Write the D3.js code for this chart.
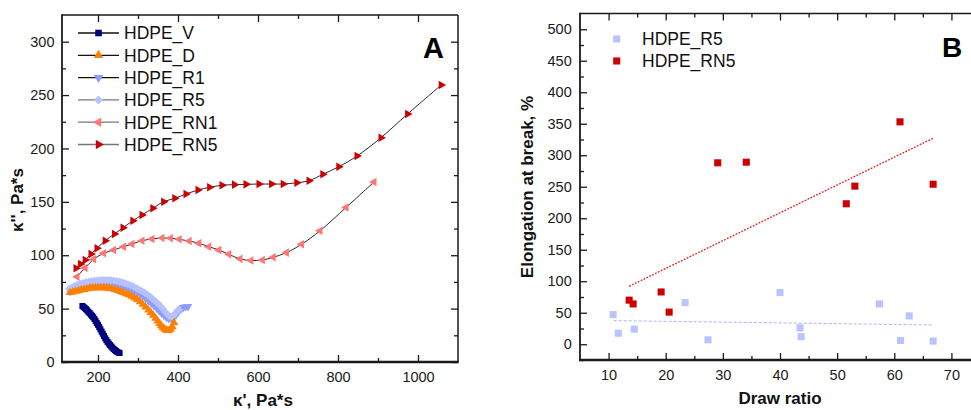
<!DOCTYPE html>
<html><head><meta charset="utf-8">
<script src="https://cdn.jsdelivr.net/npm/d3@7/dist/d3.min.js"></script>
<style>
body{margin:0;background:#fff}
svg{display:block;font-family:"Liberation Sans",Arial,sans-serif}
</style>
</head><body>
<svg id="c" width="971" height="410"></svg>
<script>
// ---------------- Panel A data (κ' vs κ'') ----------------
const seriesNamesA = ["HDPE_V","HDPE_D","HDPE_R1","HDPE_R5","HDPE_RN1","HDPE_RN5"];

const vX = [161,164,167,170,173,176,179,182,185,188,191,194,197,200,203,206,209,212,215,218,221,224,227,230,233,236,239,242,245,248,251,254];
const vY = [52.5,51.5,50.5,49.5,48.3,47,45.8,44.5,43.3,42,40.3,38.5,36.5,34.8,32.7,30.6,28.5,26.5,24.3,22.2,20.4,18.8,17.3,15.9,14.6,13.4,12.2,11.2,10.3,9.5,8.9,8.4];

const dX = [130,137,144,151,158,165,172,179,186,193,200,207,214,221,228,235,242,249,256,263,270,277,284,291,298,305,312,319,326,332,338,344,349,354,358,362,366,370,374,378,382,386,390];
const dY = [65,65.6,66.2,66.8,67.4,68,68.5,69,69.3,69.5,69.6,69.6,69.5,69.3,69,68.5,67.8,67,66,65,64,63,61.5,60,58.5,56.5,54,51.5,48.8,46.3,43.8,41,38.5,36,34,32.3,31,30,29.5,29.8,30.8,33,37];

const r1X = [130,137,144,151,158,165,172,179,186,193,200,207,214,221,228,235,242,249,256,263,270,277,284,291,298,305,312,319,326,333,340,347,353,359,365,371,377,383,389,395,401,407,413,419,425];
const r1Y = [66,67.5,68.8,69.8,70.7,71.5,72.1,72.6,73,73.3,73.5,73.6,73.6,73.5,73.3,73,72.6,72,71.3,70.4,69.3,68,66.6,65.8,65,63.5,61.5,59.5,57.3,55,52.7,50.3,48,45.8,43.7,41.8,40.7,40.5,41.8,44,47,49.5,51,51.8,52];

const r5X = [128,135,142,149,156,163,170,177,184,191,198,205,212,219,226,233,240,247,254,261,268,275,282,289,296,303,310,317,324,331,338,345,351,357,363,369,375,380,385,390,396,402];
const r5Y = [68.5,70,71.2,72.3,73.2,74,74.7,75.3,75.8,76.2,76.5,76.7,76.8,76.8,76.7,76.5,76.2,75.8,75.2,74.5,73.7,72.8,71.7,70.5,69.1,67.8,66.4,64.8,63,61,58.5,56.5,54.5,52,49.3,46.5,44,42.5,42.5,44,46.5,49];

const rn1X = [147.5,167.5,189,214,239,264,285,310,335,360,381,403,428,452,477,502,527,555,582.5,611,638,671,709,755,820,890];
const rn1Y = [79.9,88,96.2,101.8,104.9,108,110.5,113.6,115.2,116.1,115.9,114.9,113.3,111.2,108,104.9,100.9,96.6,95.1,95.5,98.1,102.4,110.3,122.9,144.7,168.6];

const rn5X = [145,156,168,182.5,197.5,218,241,262.5,287,310,337,364,392,420,450,479,510,541,570,602.5,634,663,697,727.5,762,802,847.5,907.5,974,1058];
const rn5Y = [87.8,91.8,95.5,101.2,106.5,113.6,119.9,125.8,132.3,137.7,144,150.1,153.3,157.3,161.1,163.6,165.5,166.1,166.4,166.7,166.7,166.7,167.9,169.8,175.8,182.9,192.9,210.1,232.3,259.4];

const ticksAx = [200,400,600,800,1000];
const ticksAy = [0,50,100,150,200,250,300];

// ---------------- Panel B data (draw ratio vs elongation) ----------------
const seriesNamesB = ["HDPE_R5","HDPE_RN5"];
const bR5X = [10.8,11.7,14.5,23.4,27.4,40.0,43.5,43.7,57.4,62.6,61.1,66.8];
const bR5Y = [47,17.5,24,66,7,82,26,12,64,45,6,5];
const bRN5X = [13.6,14.3,19.2,20.6,29.1,34.1,51.6,53.1,61.0,66.8];
const bRN5Y = [70,64,83,51,288,289,223,251,353,254];
const fitR5X = [10.9,66.8];
const fitR5Y = [37.5,30.6];
const fitRN5X = [13.6,66.8];
const fitRN5Y = [92,327];

const ticksBx = [10,20,30,40,50,60,70];
const ticksBy = [0,50,100,150,200,250,300,350,400,450,500];

// ---------------- drawing ----------------
const svg = d3.select('#c');
const AXC = '#1a1a1a';
const fmt = d3.format('d');

const colA = {"HDPE_V":"#00007f","HDPE_D":"#ff8000","HDPE_R1":"#8c9cff","HDPE_R5":"#b6c2ff","HDPE_RN1":"#ff7676","HDPE_RN5":"#cc0000"};
const shapeA = {"HDPE_V":"sq","HDPE_D":"up","HDPE_R1":"down","HDPE_R5":"dia","HDPE_RN1":"left","HDPE_RN5":"right"};

function marker(g, shape, x, y, color, scale) {
  scale = scale || 1;
  let type = d3.symbolTriangle, size = 32*scale, rot = 0;
  if (shape === 'sq') { type = d3.symbolSquare; size = 36*scale; }
  else if (shape === 'bsq') { type = d3.symbolSquare; size = 50*scale; }
  else if (shape === 'dia') { type = d3.symbolSquare; size = 34*scale; rot = 45; }
  else if (shape === 'down') rot = 180;
  else if (shape === 'left') rot = 270;
  else if (shape === 'right') rot = 90;
  g.append('path').attr('d', d3.symbol().type(type).size(size)())
    .attr('transform', `translate(${x},${y}) rotate(${rot})`)
    .attr('fill', color);
}

function axes(g, x, y, cfg) {
  const [x0,x1] = x.range(), [y0,y1] = y.range();
  const styleAxis = sel => { sel.select('.domain').remove(); sel.selectAll('line').attr('stroke',AXC).attr('stroke-width',1.3); sel.selectAll('text').attr('font-size',14.5).attr('fill','#1a1a1a').attr('font-family','"Liberation Sans",Arial,sans-serif'); };
  // bottom
  g.append('g').attr('transform',`translate(0,${y0})`).call(d3.axisBottom(x).tickValues(cfg.xMajor).tickSize(-7).tickPadding(9.7).tickFormat(fmt)).call(styleAxis);
  g.append('g').attr('transform',`translate(0,${y0})`).call(d3.axisBottom(x).tickValues(cfg.xMinor).tickSize(-4).tickFormat('')).call(styleAxis);
  // top
  g.append('g').attr('transform',`translate(0,${y1})`).call(d3.axisTop(x).tickValues(cfg.xMajor).tickSize(-7).tickFormat('')).call(styleAxis);
  g.append('g').attr('transform',`translate(0,${y1})`).call(d3.axisTop(x).tickValues(cfg.xMinor).tickSize(-4).tickFormat('')).call(styleAxis);
  // left
  g.append('g').attr('transform',`translate(${x0},0)`).call(d3.axisLeft(y).tickValues(cfg.yMajor).tickSize(-7).tickPadding(cfg.yPad).tickFormat(fmt)).call(styleAxis);
  g.append('g').attr('transform',`translate(${x0},0)`).call(d3.axisLeft(y).tickValues(cfg.yMinor).tickSize(-4).tickFormat('')).call(styleAxis);
  // right
  g.append('g').attr('transform',`translate(${x1},0)`).call(d3.axisRight(y).tickValues(cfg.yMajor).tickSize(-7).tickFormat('')).call(styleAxis);
  g.append('g').attr('transform',`translate(${x1},0)`).call(d3.axisRight(y).tickValues(cfg.yMinor).tickSize(-4).tickFormat('')).call(styleAxis);
  // frame
  g.append('line').attr('x1',x0).attr('x2',x1).attr('y1',y1).attr('y2',y1).attr('stroke',AXC).attr('stroke-width',1.5);
  g.append('line').attr('x1',x1).attr('x2',x1).attr('y1',y1).attr('y2',y0).attr('stroke',AXC).attr('stroke-width',1.5);
  g.append('line').attr('x1',x0).attr('x2',x0).attr('y1',y1-0.7).attr('y2',y0+1).attr('stroke',AXC).attr('stroke-width',1.8);
  g.append('line').attr('x1',x0-1).attr('x2',x1+0.7).attr('y1',y0).attr('y2',y0).attr('stroke',AXC).attr('stroke-width',2.6);
}

// ===== Panel A =====
const xA = d3.scaleLinear().domain([110,1100]).range([62,458]);
const yA = d3.scaleLinear().domain([0,325]).range([362,15]);
const gA = svg.append('g');

const dataA = {
  "HDPE_V": [vX,vY], "HDPE_D": [dX,dY], "HDPE_R1": [r1X,r1Y],
  "HDPE_R5": [r5X,r5Y], "HDPE_RN1": [rn1X,rn1Y], "HDPE_RN5": [rn5X,rn5Y]
};
const drawOrder = ["HDPE_R1","HDPE_R5","HDPE_D","HDPE_V","HDPE_RN1","HDPE_RN5"];
const lineA = d3.line().x(d=>xA(d[0])).y(d=>yA(d[1])).curve(d3.curveCatmullRom);
drawOrder.forEach(name => {
  const [xs,ys] = dataA[name];
  const pts = xs.map((v,i)=>[v,ys[i]]);
  gA.append('path').attr('d', lineA(pts)).attr('fill','none').attr('stroke','#111').attr('stroke-width',0.9);
});
drawOrder.forEach(name => {
  const [xs,ys] = dataA[name];
  xs.forEach((v,i)=> marker(gA, shapeA[name], xA(v), yA(ys[i]), colA[name]));
});

axes(gA, xA, yA, {
  xMajor: ticksAx, xMinor: [300,500,700,900],
  yMajor: ticksAy, yMinor: [25,75,125,175,225,275], yPad: 7.5
});

// legend A
const legLineCol = {"HDPE_V":"#111","HDPE_D":"#111","HDPE_R1":"#111","HDPE_R5":"#777","HDPE_RN1":"#777","HDPE_RN5":"#777"};
seriesNamesA.forEach((name,i) => {
  const cy = 33 + i*22.3;
  gA.append('line').attr('x1',78).attr('x2',119).attr('y1',cy).attr('y2',cy).attr('stroke',legLineCol[name]).attr('stroke-width',1.3);
  marker(gA, shapeA[name], 98.5, cy, colA[name], 1.2);
  gA.append('text').attr('x',124).attr('y',cy+6.3).attr('font-size',17.5).attr('fill','#111').text(name);
});
gA.append('text').attr('x',423).attr('y',58).attr('font-size',29).attr('font-weight','bold').attr('fill','#000').text('A');
gA.append('text').attr('transform','translate(23,200) rotate(-90)').attr('text-anchor','middle')
  .attr('font-size',17).attr('font-weight','bold').attr('fill','#111').text("κ'', Pa*s");
gA.append('text').attr('x',263).attr('y',406).attr('text-anchor','middle')
  .attr('font-size',17).attr('font-weight','bold').attr('fill','#111').text("κ', Pa*s");

// ===== Panel B =====
const xB = d3.scaleLinear().domain([5,75]).range([580,980]);
const yB = d3.scaleLinear().domain([-25,525]).range([360,13.5]);
const gB = svg.append('g');
const colB = {"HDPE_R5":"#b8c3ff","HDPE_RN5":"#cc0000"};

const fitLine = d3.line().x(d=>xB(d[0])).y(d=>yB(d[1]));
gB.append('path').attr('d', fitLine(fitR5X.map((v,i)=>[v,fitR5Y[i]]))).attr('fill','none')
  .attr('stroke','#a9b5ff').attr('stroke-width',1).attr('stroke-dasharray','3,2');
gB.append('path').attr('d', fitLine(fitRN5X.map((v,i)=>[v,fitRN5Y[i]]))).attr('fill','none')
  .attr('stroke','#e02a2a').attr('stroke-width',1.4).attr('stroke-dasharray','1.8,1.4');

bR5X.forEach((v,i)=> marker(gB,'bsq',xB(v),yB(bR5Y[i]),colB["HDPE_R5"]));
bRN5X.forEach((v,i)=> marker(gB,'bsq',xB(v),yB(bRN5Y[i]),colB["HDPE_RN5"]));

axes(gB, xB, yB, {
  xMajor: ticksBx, xMinor: [15,25,35,45,55,65],
  yMajor: ticksBy, yMinor: [-25,25,75,125,175,225,275,325,375,425,475], yPad: 8.3
});

seriesNamesB.forEach((name,i) => {
  const cy = 39 + i*22;
  marker(gB,'bsq',616.7,cy,colB[name]);
  gB.append('text').attr('x',642).attr('y',cy+6.3).attr('font-size',17.5).attr('fill','#111').text(name);
});
gB.append('text').attr('x',942).attr('y',57).attr('font-size',28).attr('font-weight','bold').attr('fill','#000').text('B');
gB.append('text').attr('transform','translate(533,187) rotate(-90)').attr('text-anchor','middle')
  .attr('font-size',17).attr('font-weight','bold').attr('fill','#111').text('Elongation at break, %');
gB.append('text').attr('x',780).attr('y',404).attr('text-anchor','middle')
  .attr('font-size',17).attr('font-weight','bold').attr('fill','#111').text('Draw ratio');
</script>
</body></html>
